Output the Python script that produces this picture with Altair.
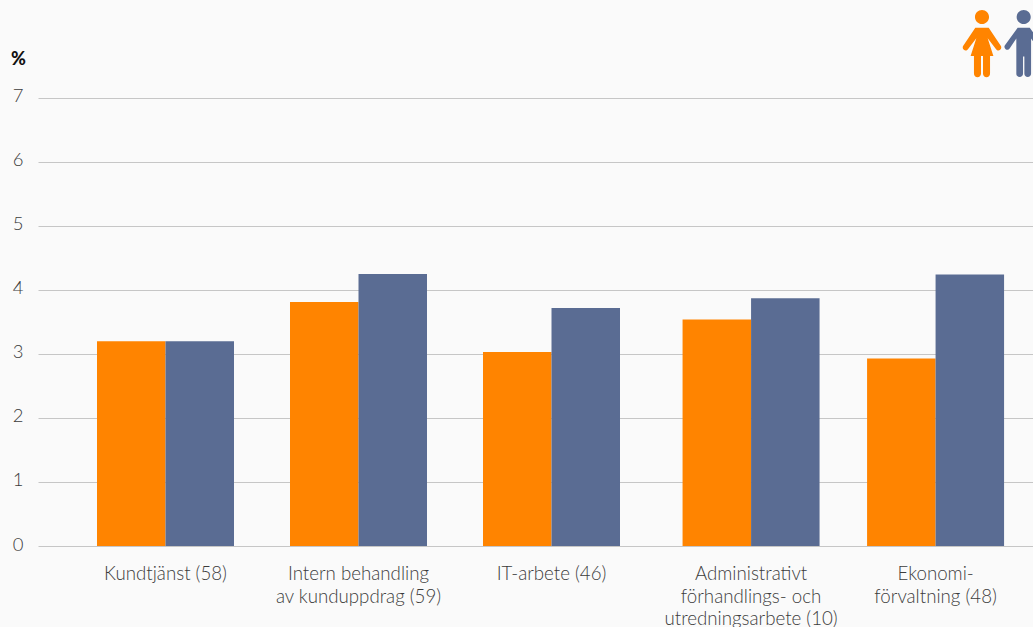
import altair as alt
import pandas as pd

categories = [
    "Kundtjänst (58)",
    "Intern behandling\nav kunduppdrag (59)",
    "IT-arbete (46)",
    "Administrativt\nförhandlings- och\nutredningsarbete (10)",
    "Ekonomi-\nförvaltning (48)",
]
women = [3.2, 3.81, 3.03, 3.54, 2.93]
men = [3.2, 4.25, 3.72, 3.87, 4.24]
y_ticks = [0, 1, 2, 3, 4, 5, 6, 7]

# Horizontal placement of the groups, in units of one group step
group_slots = [0, 1, 2, 3.034, 3.990]

ORANGE = "#ff8400"
SLATE = "#5a6c93"
TEXT = "#3c3c3c"
FONT = "Lato"
BAR_W = 68.5

WOMAN = (
    "M-.2,-.47 L-.56,.07 A.08,.08 0 0 0 -.42,.17 L-.17,-.16 L-.34,.37 H-.24 V.9 "
    "A.1,.1 0 0 0 -.03,.9 V.37 H.03 V.9 A.1,.1 0 0 0 .24,.9 V.37 H.34 L.17,-.16 "
    "L.42,.17 A.08,.08 0 0 0 .56,.07 L.2,-.47 Z "
    "M-.21,-.79 A.21,.21 0 1 0 .21,-.79 A.21,.21 0 1 0 -.21,-.79 Z"
)
MAN = (
    "M-.18,-.47 L-.56,.05 A.08,.08 0 0 0 -.42,.15 L-.22,-.15 V.9 "
    "A.1,.1 0 0 0 -.02,.9 V.39 H.02 V.9 A.1,.1 0 0 0 .22,.9 V-.15 "
    "L.42,.15 A.08,.08 0 0 0 .56,.05 L.18,-.47 Z "
    "M-.21,-.79 A.21,.21 0 1 0 .21,-.79 A.21,.21 0 1 0 -.21,-.79 Z"
)

table = pd.DataFrame(
    {"category": categories, "slot": group_slots, "women": women, "men": men}
)

x_scale = alt.Scale(domain=[-0.6606, 4.4948], nice=False, zero=False, padding=0)
y_scale = alt.Scale(domain=[0, 8.53], nice=False)
x_enc = alt.X("slot:Q", scale=x_scale, axis=None)


def bars(field, colour, offset):
    return (
        alt.Chart(table)
        .mark_bar(width=BAR_W, xOffset=offset, color=colour)
        .encode(
            x=x_enc,
            y=alt.Y(
                f"{field}:Q",
                scale=y_scale,
                title=None,
                axis=alt.Axis(
                    values=y_ticks,
                    grid=True,
                    gridColor="#c6c6c6",
                    gridWidth=1.2,
                    domain=False,
                    ticks=False,
                    labelFont=FONT,
                    labelFontWeight=300,
                    labelFontSize=18.5,
                    labelColor=TEXT,
                    labelPadding=15,
                    labelOffset=-2,
                ),
            ),
        )
    )


labels = (
    alt.Chart(table)
    .mark_text(
        font=FONT,
        fontWeight=300,
        fontSize=18.7,
        color=TEXT,
        align="center",
        baseline="top",
        lineBreak="\n",
        lineHeight=22.5,
    )
    .encode(x=x_enc, y=alt.value(565), text="category:N")
)

unit_title = (
    alt.Chart(pd.DataFrame({"t": ["%"]}))
    .mark_text(font=FONT, fontWeight=900, fontSize=18, color="#111111", align="center")
    .encode(x=alt.value(-19.5), y=alt.value(60), text="t:N")
)


def figure(path, colour, cx):
    return (
        alt.Chart(pd.DataFrame({"k": [0]}))
        .mark_point(shape=path, filled=True, size=4489, color=colour, opacity=1, clip=True)
        .encode(x=alt.value(cx), y=alt.value(43.5))
    )


chart = (
    alt.layer(
        bars("women", ORANGE, -BAR_W / 2),
        bars("men", SLATE, BAR_W / 2),
        labels,
        unit_title,
        figure(WOMAN, ORANGE, 944),
        figure(MAN, SLATE, 985.7),
    )
    .properties(
        width=995,
        height=546,
        background="#fafafa",
        padding={"left": 38, "top": 0, "right": 0, "bottom": 81},
        autosize=alt.AutoSizeParams(type="none"),
    )
    .configure_view(stroke=None)
)

chart.save("out.html", embed_options={"renderer": "svg", "actions": False})
